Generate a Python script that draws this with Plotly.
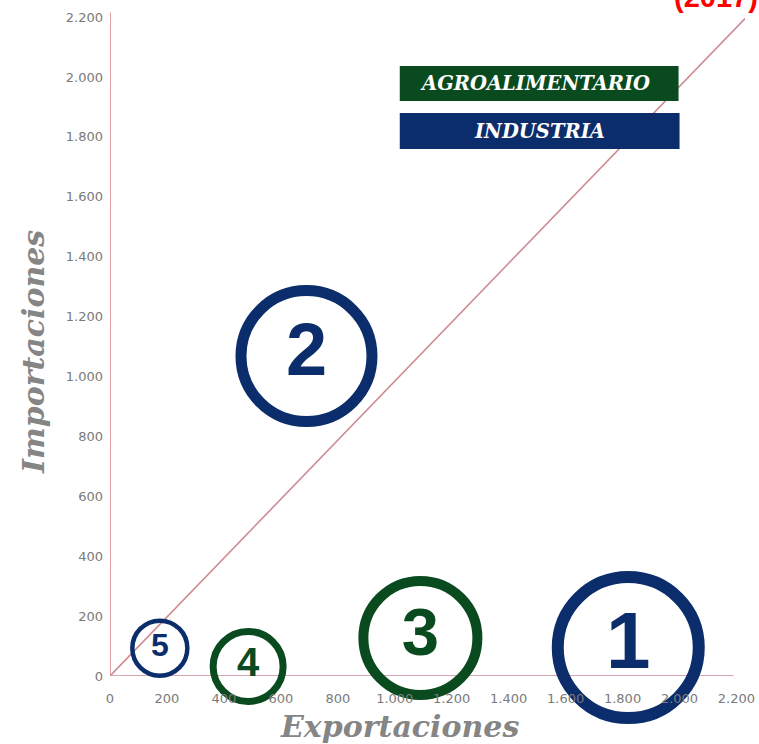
import plotly.graph_objects as go

# ---- data ----
labels = ["1", "2", "3", "4", "5"]
exportaciones = [1820, 690, 1090, 485, 175]
importaciones = [95, 1068, 127, 32, 93]
sectores = ["INDUSTRIA", "INDUSTRIA", "AGROALIMENTARIO", "AGROALIMENTARIO", "INDUSTRIA"]
bubble_size = [141, 131, 114, 70, 55]
ring_width = [12, 11, 10, 7, 4.5]
digit_size = [80, 74, 67, 40, 32]
diagonal_x = [0, 2230]
diagonal_y = [0, 2195]
x_ticks = [0, 200, 400, 600, 800, 1000, 1200, 1400, 1600, 1800, 2000, 2200]
y_ticks = [0, 200, 400, 600, 800, 1000, 1200, 1400, 1600, 1800, 2000, 2200]

COL = {"INDUSTRIA": "#0c2d6b", "AGROALIMENTARIO": "#0a4a1f"}
colors = [COL[s] for s in sectores]

W, H = 759, 744
L, R = 110, 745.5          # plot area pixel bounds
T, B = 0, 676
XMAX = 2230
YMAX = 2257


def px(x):
    return (x - L) / (R - L)


def py(y):
    return (B - y) / (B - T)


fig = go.Figure()

# diagonal reference line
fig.add_trace(go.Scatter(x=diagonal_x, y=diagonal_y, mode="lines",
                         line=dict(color="#cf8a93", width=1.6),
                         hoverinfo="skip", showlegend=False, cliponaxis=False))

fig.add_trace(go.Scatter(
    x=exportaciones, y=importaciones, mode="markers+text", text=labels,
    textposition="middle center",
    textfont=dict(family="Liberation Sans, Arial", size=digit_size, color=colors, weight="bold"),
    marker=dict(symbol="circle-open", size=bubble_size, sizemode="diameter", color=colors,
                opacity=1, line=dict(color=colors, width=ring_width)),
    showlegend=False, cliponaxis=False))

tickfont = dict(family="DejaVu Sans, Verdana", size=13, color="#7a7a7a")
fig.update_layout(
    width=W, height=H,
    margin=dict(l=L, r=W - R, t=T, b=H - B, autoexpand=False),
    paper_bgcolor="white", plot_bgcolor="white",
    separators=",.",
    showlegend=False,
    xaxis=dict(range=[0, XMAX], tickvals=x_ticks, tickformat=",d", showgrid=False,
               zeroline=False, showline=False, ticks="", automargin=False,
               tickfont=tickfont, ticklabelstandoff=13),
    yaxis=dict(range=[0, YMAX], tickvals=y_ticks, tickformat=",d", showgrid=False,
               zeroline=False, showline=False, ticks="", automargin=False,
               tickfont=tickfont, ticklabelstandoff=6),
)

# axis lines
fig.add_shape(type="line", xref="x", yref="y", x0=0, x1=0, y0=0, y1=2215,
              line=dict(color="#d9707c", width=1.3), layer="below")
fig.add_shape(type="line", xref="x", yref="y", x0=0, x1=2190, y0=0, y1=0,
              line=dict(color="#c88a90", width=1.3), layer="below")

# legend boxes
fig.add_shape(type="rect", xref="paper", yref="paper", x0=px(400), x1=px(679),
              y0=py(101), y1=py(66), fillcolor=COL["AGROALIMENTARIO"], line=dict(width=0))
fig.add_shape(type="rect", xref="paper", yref="paper", x0=px(400), x1=px(680),
              y0=py(149), y1=py(113), fillcolor=COL["INDUSTRIA"], line=dict(width=0))
fig.add_annotation(xref="paper", yref="paper", x=px(535), y=py(83.5),
                   text="<b><i>AGROALIMENTARIO</i></b>", showarrow=False,
                   font=dict(family="DejaVu Serif", size=19.5, color="white"),
                   xanchor="center", yanchor="middle")
fig.add_annotation(xref="paper", yref="paper", x=px(540), y=py(131),
                   text="<b><i>INDUSTRIA</i></b>", showarrow=False,
                   font=dict(family="DejaVu Serif", size=19.5, color="white"),
                   xanchor="center", yanchor="middle")

# axis titles
fig.add_annotation(xref="paper", yref="paper", x=px(400), y=py(726),
                   text="<b><i>Exportaciones</i></b>", showarrow=False,
                   font=dict(family="DejaVu Serif", size=30, color="#858585"),
                   xanchor="center", yanchor="middle")
fig.add_annotation(xref="paper", yref="paper", x=px(33), y=py(352),
                   text="<b><i>Importaciones</i></b>", showarrow=False, textangle=-90,
                   font=dict(family="DejaVu Serif", size=30, color="#858585"),
                   xanchor="center", yanchor="middle")

# title, cut off at the top edge as in the original
fig.add_annotation(xref="paper", yref="paper", x=px(672), y=py(15),
                   text="<b>(2017)</b>", showarrow=False,
                   font=dict(family="Liberation Sans, Arial", size=29, color="#ff0000"),
                   xanchor="left", yanchor="bottom")

fig.write_html("out.html", config={"displayModeBar": False},
               post_script="document.body.style.margin='0';document.body.style.overflow='hidden';")
